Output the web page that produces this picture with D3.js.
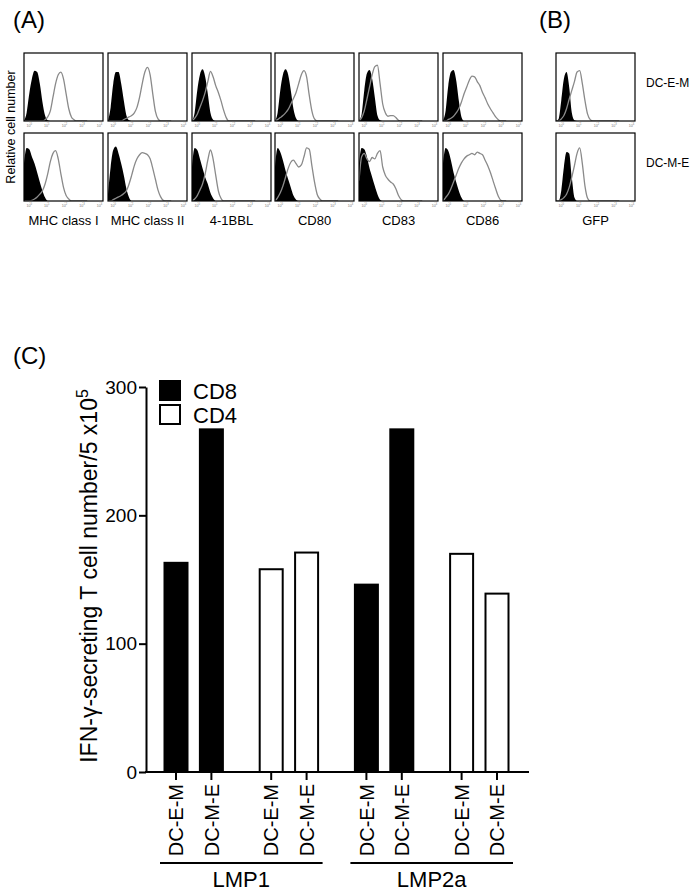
<!DOCTYPE html>
<html><head><meta charset="utf-8">
<script src="https://cdn.jsdelivr.net/npm/d3@7"></script>
<style>
body{margin:0;background:#fff}
svg{display:block}
text{font-family:"Liberation Sans",Arial,Helvetica,sans-serif;fill:#000}
</style>
</head><body>
<svg id="c" width="700" height="891"></svg>
<script>
// ---------- Panel A/B : flow cytometry histograms ----------
// log10 bins: start -0.3, step 0.15 ; values = % of box height
const binStart = -0.3, binStep = 0.15, nBins = 25;
const markers = ["MHC class I","MHC class II","4-1BBL","CD80","CD83","CD86","GFP"];
const rowLabels = ["DC-E-M","DC-M-E"];
const decadeTicks = [1,10,100,1000,10000];

// top row (DC-E-M): isotype (black filled) and stained (grey line)
const isotypeEM = [
  [0,12,40,62,74,72,55,28,8,1],
  [0,20,55,72,72,55,30,8,1],
  [0,12,45,68,76,65,40,12,2],
  [0,12,45,68,76,68,45,18,4],
  [0,10,45,70,75,62,35,8,1],
  [0,15,52,72,75,60,30,6],
  [0,3,30,62,72,50,12,1]
];
const stainedEM = [
  [0,0,0,0,0,0,0,0,2,6,15,35,55,68,72,62,40,18,6,2],
  [0,0,0,0,0,0,2,4,6,8,12,20,35,55,72,79,68,40,14,3],
  [0,4,10,20,30,42,58,73,65,52,42,30,16,5],
  [0,2,5,8,12,17,25,33,42,55,68,74,65,38,15,3],
  [0,5,15,32,50,68,80,82,55,25,12,7,8,8,5,1],
  [0,0,2,4,7,12,18,28,40,50,60,66,65,58,52,42,34,25,18,12,6,2],
  [0,0,3,8,18,32,45,58,72,74,55,30,10,2]
];
// bottom row (DC-M-E)
const isotypeME = [
  [55,78,76,65,55,42,28,15,5],
  [10,50,75,80,70,55,38,18,5],
  [50,78,75,62,48,35,25,12,4],
  [50,78,72,60,45,32,20,8,2],
  [55,78,76,65,48,35,22,10,2],
  [55,78,74,60,42,28,15,5],
  [0,0,15,50,72,70,35,5]
];
const stainedME = [
  [0,0,0,1,3,6,10,15,25,40,58,70,74,62,40,20,8,3],
  [0,0,2,4,6,8,11,15,25,38,52,62,68,71,70,68,62,48,32,16,6,1],
  [0,3,8,16,25,40,60,75,62,38,15,4],
  [0,5,12,22,35,48,57,60,55,50,53,65,78,76,52,28,10,3],
  [30,65,70,62,58,64,62,70,74,50,38,32,28,25,18,8,2],
  [0,5,10,18,28,38,48,56,62,66,68,70,68,72,70,68,60,52,42,30,18,7,1],
  [0,0,2,5,10,20,35,52,70,78,55,22,4]
];

// ---------- Panel C : bar chart ----------
const antigens = ["LMP1","LMP2a"];
const cellTypes = ["CD8","CD4"];
const dcTypes = ["DC-E-M","DC-M-E"];
const lmp1CD8 = [163, 267];
const lmp1CD4 = [158, 171];
const lmp2aCD8 = [146, 267];
const lmp2aCD4 = [170, 139];
const yTicks = [0,100,200,300];

const svg = d3.select("#c");
const FONT = "'Liberation Sans',Arial,Helvetica,sans-serif";

// panel letters
svg.append("text").attr("x",13).attr("y",28).attr("font-size",24).text("(A)");
svg.append("text").attr("x",539).attr("y",28).attr("font-size",24).text("(B)");
svg.append("text").attr("x",13).attr("y",364).attr("font-size",24).text("(C)");

// ---- histograms ----
const boxX = [24,108,192,275,359,443,556];
const rowY = [53,133];
const boxW = 79, boxH = 68;
const hx = d3.scaleLog().domain([Math.pow(10,binStart), Math.pow(10,4.2)]).range([0,boxW]);
const hy = d3.scaleLinear().domain([0,100]).range([boxH,0]);
const pad = a => { const r = a.slice(); while (r.length < nBins) r.push(0); return r; };
const toPts = a => pad(a).map((v,i) => ({x: Math.pow(10, binStart + i*binStep), v}));

const area = d3.area().x(d=>hx(d.x)).y0(boxH).y1(d=>hy(d.v)).curve(d3.curveMonotoneX);
const line = d3.line().x(d=>hx(d.x)).y(d=>hy(d.v)).curve(d3.curveMonotoneX);

const rowsData = [[isotypeEM, stainedEM],[isotypeME, stainedME]];
rowsData.forEach((rd, r) => {
  boxX.forEach((bx, k) => {
    const g = svg.append("g").attr("transform",`translate(${bx},${rowY[r]})`);
    const cid = `clip${r}_${k}`;
    g.append("clipPath").attr("id",cid).append("rect").attr("width",boxW).attr("height",boxH);
    const cg = g.append("g").attr("clip-path",`url(#${cid})`);
    cg.append("path").datum(toPts(rd[0][k])).attr("d",area).attr("fill","#000");
    cg.append("path").datum(toPts(rd[1][k])).attr("d",line).attr("fill","none")
      .attr("stroke","#8a8a8a").attr("stroke-width",1.3);
    g.append("rect").attr("width",boxW).attr("height",boxH).attr("fill","none")
      .attr("stroke","#000").attr("stroke-width",1.2);
    // tiny decade ticks
    const ax = g.append("g").attr("transform",`translate(0,${boxH})`)
      .call(d3.axisBottom(hx).tickValues(decadeTicks).tickSize(1.5).tickFormat(""));
    ax.select(".domain").remove();
    ax.selectAll("line").attr("stroke","#777").attr("stroke-width",0.5);
    decadeTicks.forEach((t,j) => {
      const tt = g.append("text").attr("x",hx(t)).attr("y",boxH+5.5)
        .attr("font-size",3.6).attr("text-anchor","middle").style("fill","#777");
      tt.append("tspan").text("10");
      tt.append("tspan").attr("dy",-1.3).attr("font-size",2.6).text(j);
    });
    if (r === 1) {
      svg.append("text").attr("x",bx+boxW/2).attr("y",225).attr("text-anchor","middle")
        .attr("font-size",13).text(markers[k]);
    }
  });
  svg.append("text").attr("x",646).attr("y",rowY[r]+boxH/2-3).attr("font-size",12)
    .attr("dominant-baseline","middle").text(rowLabels[r]);
});
svg.append("text").attr("transform","translate(15,127) rotate(-90)").attr("text-anchor","middle")
  .attr("font-size",12.5).text("Relative cell number");

// ---- bar chart ----
const y = d3.scaleLinear().domain([0,300]).range([772,387]);
const gapFrac = 0.69;
const slot = i => i + gapFrac*Math.floor(i/2);
const x = d3.scaleLinear().domain([slot(0), slot(7)]).range([176,497]);

const bars = [];
antigens.forEach((ag, a) => {
  const vals = a === 0 ? [lmp1CD8, lmp1CD4] : [lmp2aCD8, lmp2aCD4];
  cellTypes.forEach((ct, c) => {
    dcTypes.forEach((dc, d) => {
      bars.push({i: a*4 + c*2 + d, ag, ct, dc, v: vals[c][d]});
    });
  });
});
const bw = 23;
svg.append("g").selectAll("rect").data(bars).join("rect")
  .attr("x", d => x(slot(d.i)) - bw/2)
  .attr("y", d => y(d.v))
  .attr("width", bw)
  .attr("height", d => y(0) - y(d.v))
  .attr("fill", d => d.ct === "CD8" ? "#000" : "#fff")
  .attr("stroke","#000").attr("stroke-width",2);

// y axis
const yAx = svg.append("g").attr("transform","translate(146,0)")
  .call(d3.axisLeft(y).tickValues(yTicks).tickSize(7).tickSizeOuter(0).tickPadding(2));
yAx.select(".domain").attr("stroke-width",2);
yAx.selectAll("line").attr("stroke-width",2);
yAx.selectAll("text").attr("font-size",19).attr("font-family",FONT).style("fill","#000");

// x axis
svg.append("line").attr("x1",145).attr("x2",529).attr("y1",772).attr("y2",772)
  .attr("stroke","#000").attr("stroke-width",2);
svg.append("g").selectAll("line").data(bars).join("line")
  .attr("x1",d=>x(slot(d.i))).attr("x2",d=>x(slot(d.i)))
  .attr("y1",772).attr("y2",780).attr("stroke","#000").attr("stroke-width",2);
svg.append("g").selectAll("text").data(bars).join("text")
  .attr("transform",d=>`translate(${x(slot(d.i))},784) rotate(-90)`)
  .attr("text-anchor","end").attr("dy","0.36em").attr("font-size",20).text(d=>d.dc);

// group brackets
antigens.forEach((ag, a) => {
  const x0 = x(slot(a*4)) - 16, x1 = x(slot(a*4+3)) + 16;
  svg.append("line").attr("x1",x0).attr("x2",x1).attr("y1",863).attr("y2",863)
    .attr("stroke","#000").attr("stroke-width",2);
  svg.append("text").attr("x",(x0+x1)/2).attr("y",887).attr("text-anchor","middle")
    .attr("font-size",22).text(ag);
});

// legend
cellTypes.forEach((ct, c) => {
  svg.append("rect").attr("x",160).attr("y",381 + c*24).attr("width",20).attr("height",19)
    .attr("fill", c === 0 ? "#000" : "#fff").attr("stroke","#000").attr("stroke-width",2);
  svg.append("text").attr("x",193).attr("y",399 + c*24).attr("font-size",22).text(ct);
});

// y label
const yl = svg.append("text").attr("transform","translate(97,576) rotate(-90)")
  .attr("text-anchor","middle").attr("font-size",23);
yl.append("tspan").text("IFN-\u03b3-secreting T cell number/5 x10");
yl.append("tspan").attr("dy",-9).attr("font-size",16).text("5");
</script>
</body></html>
